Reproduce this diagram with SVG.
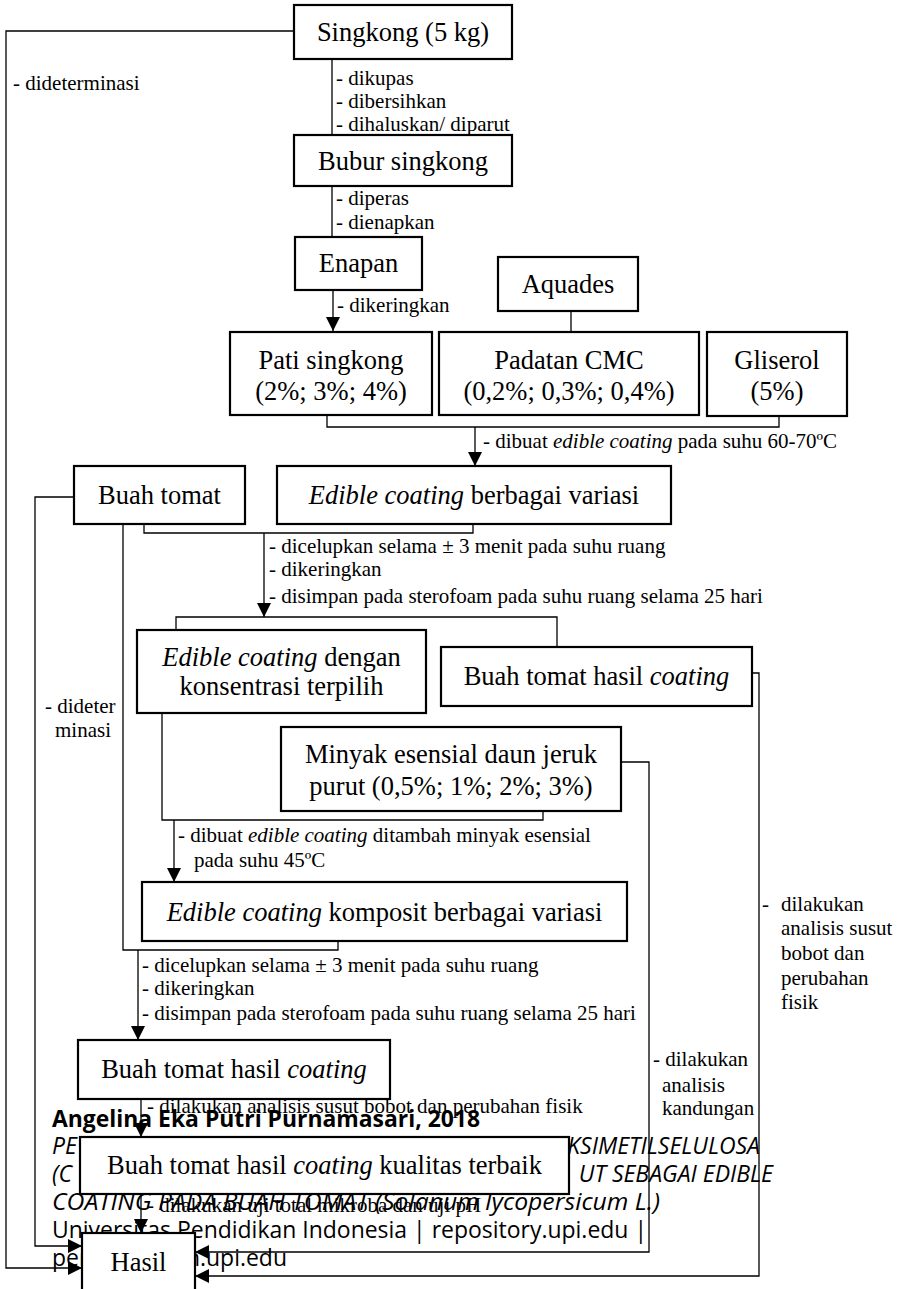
<svg xmlns="http://www.w3.org/2000/svg" width="906" height="1289" viewBox="0 0 906 1289">
<style>
.bg{fill:#fff}
.box{fill:#fff;stroke:#000;stroke-width:2.2}
.t{font-family:"Liberation Serif","Times New Roman",serif;font-size:26.5px;fill:#000;text-anchor:middle}
.l{font-family:"Liberation Serif","Times New Roman",serif;font-size:21px;fill:#000}
.c{fill:none;stroke:#000;stroke-width:1.3}
.w{font-family:"Open Sans","Noto Sans",sans-serif;font-size:23px;fill:#000}
.i{font-style:italic}
</style>
<defs>
<marker id="ah" markerUnits="userSpaceOnUse" markerWidth="14" markerHeight="14" refX="14" refY="7" orient="auto">
<path d="M0,0 L14,7 L0,14 z" fill="#000"/>
</marker>
</defs>
<rect class="bg" x="0" y="0" width="906" height="1289"/>

<g id="watermark">
<text class="w" x="52" y="1127" font-weight="bold" textLength="428" lengthAdjust="spacingAndGlyphs">Angelina Eka Putri Purnamasari, 2018</text>
<text class="w i" x="52" y="1154">PE</text>
<text class="w i" x="760" y="1154" text-anchor="end">KSIMETILSELULOSA</text>
<text class="w i" x="52" y="1182">(C</text>
<text class="w i" x="773" y="1182" text-anchor="end">UT SEBAGAI EDIBLE</text>
<text class="w i" x="52" y="1210" textLength="608" lengthAdjust="spacingAndGlyphs">COATING PADA BUAH TOMAT (Solanum lycopersicum L.)</text>
<text class="w" x="52" y="1238" textLength="595" lengthAdjust="spacingAndGlyphs">Universitas Pendidikan Indonesia | repository.upi.edu |</text>
<text class="w" x="52" y="1266" textLength="235" lengthAdjust="spacingAndGlyphs">perpustakaan.upi.edu</text>
</g>

<g id="connectors">
<path class="c" d="M294,31 H6 V1268 H82" marker-end="url(#ah)"/>
<path class="c" d="M332,59 V135"/>
<path class="c" d="M332,186 V237"/>
<path class="c" d="M333,290 V331" marker-end="url(#ah)"/>
<path class="c" d="M571,311 V332"/>
<path class="c" d="M327,415 V427 H779 V416"/>
<path class="c" d="M475,427 V466" marker-end="url(#ah)"/>
<path class="c" d="M74,497 H35 V1246 H82" marker-end="url(#ah)"/>
<path class="c" d="M144,524 V533 H473 V524"/>
<path class="c" d="M264,533 V617" marker-end="url(#ah)"/>
<path class="c" d="M176,630 V617 H557 V647"/>
<path class="c" d="M752,673 H759 V1276 H195" marker-end="url(#ah)"/>
<path class="c" d="M162,713 V820 H543 V811"/>
<path class="c" d="M621,762 H649 V1252 H195" marker-end="url(#ah)"/>
<path class="c" d="M174,820 V882" marker-end="url(#ah)"/>
<path class="c" d="M123,524 V950 H338 V941"/>
<path class="c" d="M138,950 V1040" marker-end="url(#ah)"/>
<path class="c" d="M141,1099 V1137" marker-end="url(#ah)"/>
<path class="c" d="M141,1194 V1233" marker-end="url(#ah)"/>
</g>

<g id="labels">
<text class="l" x="13" y="90">- dideterminasi</text>
<text class="l" x="336" y="85">- dikupas</text>
<text class="l" x="336" y="108">- dibersihkan</text>
<text class="l" x="336" y="131">- dihaluskan/ diparut</text>
<text class="l" x="336" y="205">- diperas</text>
<text class="l" x="336" y="229">- dienapkan</text>
<text class="l" x="337" y="312">- dikeringkan</text>
<text class="l" x="483" y="448">- dibuat <tspan class="i">edible coating</tspan> pada suhu 60-70ºC</text>
<text class="l" x="269" y="553">- dicelupkan selama ± 3 menit pada suhu ruang</text>
<text class="l" x="269" y="576">- dikeringkan</text>
<text class="l" x="269" y="603">- disimpan pada sterofoam pada suhu ruang selama 25 hari</text>
<text class="l" x="45" y="713">- dideter</text>
<text class="l" x="55" y="737">minasi</text>
<text class="l" x="178" y="842">- dibuat <tspan class="i">edible coating</tspan> ditambah minyak esensial</text>
<text class="l" x="194" y="867">pada suhu 45ºC</text>
<text class="l" x="142" y="972">- dicelupkan selama ± 3 menit pada suhu ruang</text>
<text class="l" x="142" y="995">- dikeringkan</text>
<text class="l" x="142" y="1020">- disimpan pada sterofoam pada suhu ruang selama 25 hari</text>
<text class="l" x="147" y="1113">- dilakukan analisis susut bobot dan perubahan fisik</text>
<text class="l" x="147" y="1212">- dilakukan uji total mikroba dan uji pH</text>
<text class="l" x="762" y="911">-</text>
<text class="l" x="781" y="911">dilakukan</text>
<text class="l" x="781" y="935">analisis susut</text>
<text class="l" x="781" y="960">bobot dan</text>
<text class="l" x="781" y="985">perubahan</text>
<text class="l" x="781" y="1009">fisik</text>
<text class="l" x="653" y="1066">- dilakukan</text>
<text class="l" x="662" y="1092">analisis</text>
<text class="l" x="662" y="1115">kandungan</text>
</g>

<g id="n-singkong"><rect class="box" x="294" y="5" width="218" height="54"/><text class="t" x="403" y="41">Singkong (5 kg)</text></g>
<g id="n-bubur"><rect class="box" x="294" y="135" width="218" height="51"/><text class="t" x="403" y="170">Bubur singkong</text></g>
<g id="n-enapan"><rect class="box" x="295" y="237" width="127" height="53"/><text class="t" x="358.5" y="272">Enapan</text></g>
<g id="n-aquades"><rect class="box" x="498" y="257" width="140" height="54"/><text class="t" x="568" y="293">Aquades</text></g>
<g id="n-pati"><rect class="box" x="230" y="332" width="202" height="83"/><text class="t" x="331" y="369">Pati singkong</text><text class="t" x="331" y="400">(2%; 3%; 4%)</text></g>
<g id="n-cmc"><rect class="box" x="439" y="332" width="260" height="83"/><text class="t" x="569" y="369">Padatan CMC</text><text class="t" x="569" y="400">(0,2%; 0,3%; 0,4%)</text></g>
<g id="n-gliserol"><rect class="box" x="707" y="332" width="140" height="84"/><text class="t" x="777" y="369">Gliserol</text><text class="t" x="777" y="400">(5%)</text></g>
<g id="n-tomat"><rect class="box" x="74" y="466" width="171" height="58"/><text class="t" x="159.5" y="504">Buah tomat</text></g>
<g id="n-edible"><rect class="box" x="277" y="466" width="394" height="58"/><text class="t" x="474" y="504"><tspan class="i">Edible coating</tspan> berbagai variasi</text></g>
<g id="n-terpilih"><rect class="box" x="137" y="630" width="289" height="83"/><text class="t" x="281.5" y="666"><tspan class="i">Edible coating</tspan> dengan</text><text class="t" x="281.5" y="695">konsentrasi terpilih</text></g>
<g id="n-tomat-coating1"><rect class="box" x="441" y="647" width="311" height="59"/><text class="t" x="596.5" y="685">Buah tomat hasil <tspan class="i">coating</tspan></text></g>
<g id="n-minyak"><rect class="box" x="281" y="727" width="340" height="84"/><text class="t" x="451" y="763">Minyak esensial daun jeruk</text><text class="t" x="451" y="795">purut (0,5%; 1%; 2%; 3%)</text></g>
<g id="n-komposit"><rect class="box" x="142" y="882" width="485" height="59"/><text class="t" x="384.5" y="921"><tspan class="i">Edible coating</tspan> komposit berbagai variasi</text></g>
<g id="n-tomat-coating2"><rect class="box" x="78" y="1040" width="312" height="59"/><text class="t" x="234" y="1078">Buah tomat hasil <tspan class="i">coating</tspan></text></g>
<g id="n-terbaik"><rect class="box" x="80" y="1137" width="489" height="57"/><text class="t" x="324.5" y="1174">Buah tomat hasil <tspan class="i">coating</tspan> kualitas terbaik</text></g>
<g id="n-hasil"><rect class="box" x="82" y="1233" width="113" height="70"/><text class="t" x="138.5" y="1271">Hasil</text></g>
</svg>
